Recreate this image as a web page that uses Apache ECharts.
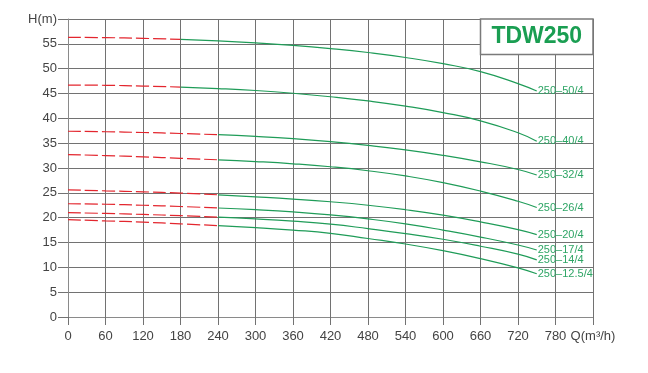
<!DOCTYPE html>
<html>
<head>
<meta charset="utf-8">
<script src="https://cdn.jsdelivr.net/npm/echarts@6/dist/echarts.min.js"></script>
<style>html,body{margin:0;padding:0;background:#fff;}#c{width:648px;height:373px;}</style>
</head>
<body>
<div id="c"></div>
<script>
var flows = [0, 60, 120, 180, 240, 300, 360, 420, 480, 540, 600, 660, 720, 750];
var curveNames = ['250–50/4', '250–40/4', '250–32/4', '250–26/4', '250–20/4', '250–17/4', '250–14/4', '250–12.5/4'];
var h50 = [56.3, 56.25, 56.1, 55.9, 55.6, 55.2, 54.7, 54.05, 53.25, 52.25, 51.0, 49.4, 47.0, 45.5];
var h40 = [46.7, 46.65, 46.5, 46.3, 46.0, 45.6, 45.05, 44.35, 43.5, 42.45, 41.15, 39.5, 37.1, 35.4];
var h32 = [37.4, 37.3, 37.15, 36.95, 36.7, 36.35, 35.9, 35.3, 34.55, 33.65, 32.55, 31.25, 29.7, 28.6];
var h26 = [32.7, 32.5, 32.25, 31.95, 31.65, 31.3, 30.85, 30.25, 29.45, 28.4, 27.05, 25.35, 23.3, 22.05];
var h20 = [25.6, 25.4, 25.2, 24.95, 24.6, 24.2, 23.75, 23.2, 22.5, 21.6, 20.5, 19.15, 17.6, 16.6];
var h17 = [22.8, 22.7, 22.5, 22.25, 21.95, 21.6, 21.15, 20.55, 19.75, 18.75, 17.5, 16.1, 14.5, 13.5];
var h14 = [21.0, 20.85, 20.65, 20.4, 20.1, 19.75, 19.3, 18.7, 17.8, 16.8, 15.65, 14.25, 12.65, 11.5];
var h125 = [19.6, 19.35, 19.1, 18.75, 18.4, 18.0, 17.5, 16.85, 15.8, 14.7, 13.35, 11.75, 9.9, 8.7];
var heads = [h50, h40, h32, h26, h20, h17, h14, h125];
var splitFlow = [180, 180, 240, 240, 240, 240, 240, 240];
var yTicks = [0, 60, 5];
var xTicks = [0, 840, 60];
var title = 'TDW250';
var titleBox = [[660, 52.85], [840, 60]];

var green = '#1f9c58', red = '#e3262e', gridCol = '#727272';
var font = '"Liberation Sans", Arial, sans-serif';
var series = [];
heads.forEach(function (h, i) {
  var dashed = [], solid = [];
  flows.forEach(function (q, j) {
    if (q <= splitFlow[i]) dashed.push([q, h[j]]);
    if (q >= splitFlow[i]) solid.push([q, h[j]]);
  });
  series.push({
    type: 'line', data: dashed, smooth: true, symbol: 'none', silent: true,
    lineStyle: {color: red, width: 1.2, type: [13, 4]}, z: 3
  });
  series.push({
    type: 'line', name: curveNames[i], data: solid, smooth: true,
    symbol: 'none', silent: true,
    lineStyle: {color: green, width: 1.2}, z: 3,
    endLabel: {show: true, distance: 1, formatter: curveNames[i],
      color: '#2ea565', fontSize: 11, fontFamily: font}
  });
});
series.push({
  type: 'line', data: [], silent: true, z: 2,
  markArea: {
    silent: true,
    itemStyle: {color: '#fff', borderColor: '#7a7a7a', borderWidth: 1.5},
    label: {show: true, position: 'inside', formatter: title, color: '#1a9e52',
      fontSize: 23, fontWeight: 'bold', fontFamily: font},
    data: [[{coord: titleBox[0]}, {coord: titleBox[1]}]]
  }
});

var chart = echarts.init(document.getElementById('c'));
chart.setOption({
  animation: false,
  backgroundColor: '#fff',
  grid: {left: 68, right: 55, top: 19, bottom: 56},
  xAxis: {
    type: 'value', min: xTicks[0], max: xTicks[1], interval: xTicks[2],
    axisLine: {lineStyle: {color: '#8a8a8a', width: 1}},
    axisTick: {length: 8, lineStyle: {color: gridCol}},
    splitLine: {show: true, lineStyle: {color: gridCol, width: 1}},
    axisLabel: {color: '#444', fontSize: 13, fontFamily: font, margin: 13,
      formatter: function (v) { return v === 840 ? 'Q(m³/h)' : v; }}
  },
  yAxis: {
    type: 'value', min: yTicks[0], max: yTicks[1], interval: yTicks[2],
    axisLine: {show: true, lineStyle: {color: '#8a8a8a', width: 1}},
    axisTick: {show: true, length: 10, lineStyle: {color: gridCol}},
    splitLine: {show: true, lineStyle: {color: gridCol, width: 1}},
    axisLabel: {color: '#444', fontSize: 13, fontFamily: font, margin: 11,
      formatter: function (v) { return v === 60 ? 'H(m)' : v; }}
  },
  series: series
});
</script>
</body>
</html>
